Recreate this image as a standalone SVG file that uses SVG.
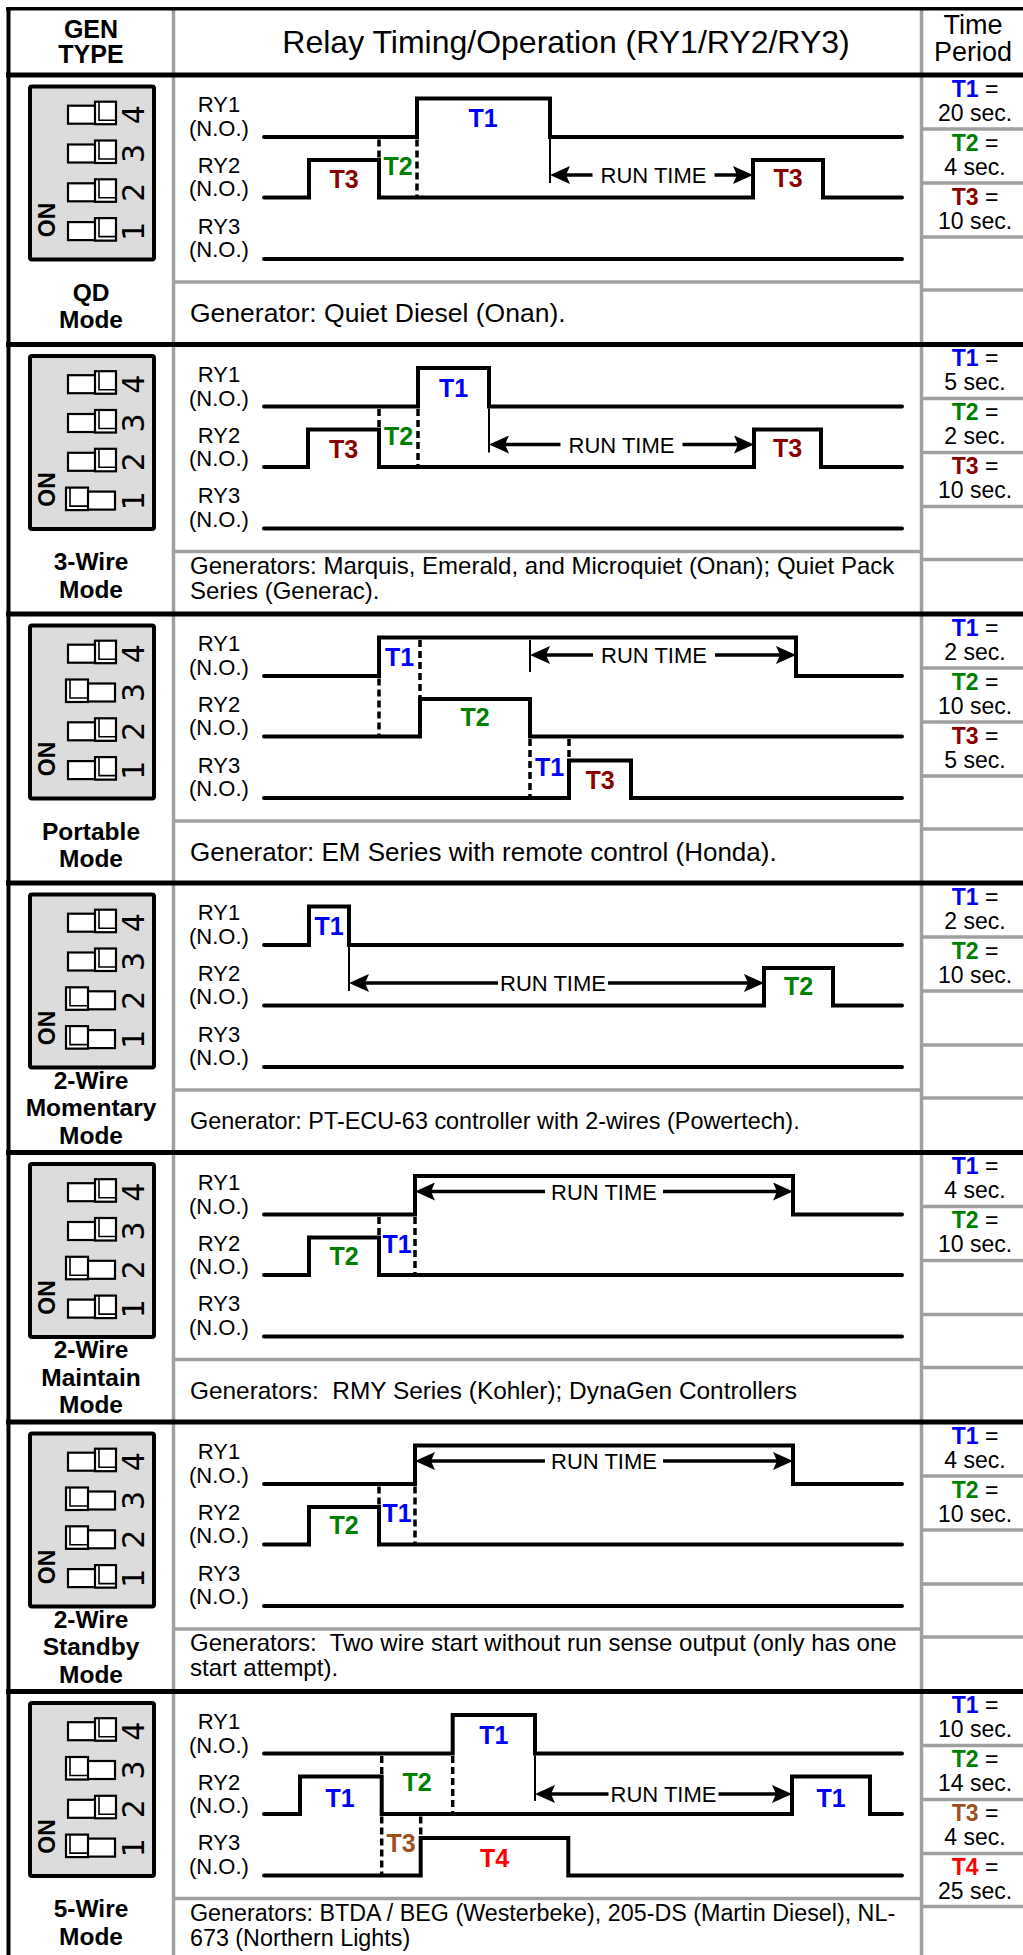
<svg xmlns="http://www.w3.org/2000/svg" xmlns:xlink="http://www.w3.org/1999/xlink" width="1023" height="1955" viewBox="0 0 1023 1955">
<style>
text{font-family:"Liberation Sans",Arial,Helvetica,sans-serif;fill:#000}
.w{fill:none;stroke:#000;stroke-width:4;stroke-linecap:round;stroke-linejoin:miter}
.d{fill:none;stroke:#000;stroke-width:3.5;stroke-dasharray:7 4}
.k{fill:none;stroke:#000;stroke-width:2}
.a{fill:none;stroke:#000;stroke-width:3.5;marker-end:url(#ah)}
.ry{font-size:22px;text-anchor:middle}
.rt{font-size:22px;text-anchor:middle}
.t{font-size:25px;font-weight:bold;text-anchor:middle}
.b{fill:#0000ff}.g{fill:#008000}.r{fill:#8b0000}.br{fill:#a0501e}.rd{fill:#ff0000}
.gen{font-size:24px;white-space:pre}
.tp{font-size:23px;text-anchor:middle}
.tb{font-weight:bold}
.md{font-size:24.5px;font-weight:bold;text-anchor:middle}
.gl{stroke:#a0a0a0;stroke-width:3.5;fill:none}
.bl{stroke:#000;stroke-width:5;fill:none}
.box{fill:#dcdcdc;stroke:#000;stroke-width:4}
.dg{font-family:"DejaVu Sans",sans-serif;font-size:30px;text-anchor:middle}
.on{font-size:23px;font-weight:bold;text-anchor:middle}
.sb{fill:#fff;stroke:#000;stroke-width:2.2}
.sk{fill:none;stroke:#000;stroke-width:1.6}
</style>
<defs>
<marker id="ah" markerUnits="userSpaceOnUse" markerWidth="20" markerHeight="18" viewBox="0 0 20 18" refX="12" refY="9" orient="auto"><path d="M0,0 L20,9 L0,18 L4,9 Z" fill="#000"/></marker>
<g id="swOff"><rect class="sb" x="0" y="0" width="47" height="18"/><rect class="sb" x="27" y="-4" width="21" height="22.5"/><path class="sk" d="M31,-4 V14.5 H48"/></g>
<g id="swOn"><rect class="sb" x="0" y="0" width="47" height="18"/><rect class="sb" x="-2" y="-4" width="22" height="22.5"/><path class="sk" d="M2,-4 V14.5 H20"/></g>
<g id="ryl">
<text class="ry" x="219" y="37">RY1</text><text class="ry" x="219" y="61">(N.O.)</text>
<text class="ry" x="219" y="98">RY2</text><text class="ry" x="219" y="121">(N.O.)</text>
<text class="ry" x="219" y="158.5">RY3</text><text class="ry" x="219" y="182">(N.O.)</text>
</g>
<g id="cellsep">
<path class="gl" d="M921.5,54 H1023 M921.5,108 H1023 M921.5,162 H1023 M921.5,215 H1023 M173.5,207 H921.5"/>
</g>
<g id="dipbox">
<rect class="box" x="30" y="11.5" width="124" height="173" rx="2"/>
<text class="on" transform="translate(46.7,145) rotate(-90)" y="8.3">ON</text>
<text class="dg" transform="translate(132.5,39.7) rotate(-90)" y="11">4</text>
<text class="dg" transform="translate(132.5,78.5) rotate(-90)" y="11">3</text>
<text class="dg" transform="translate(132.5,117.3) rotate(-90)" y="11">2</text>
<text class="dg" transform="translate(132.5,156.1) rotate(-90)" y="11">1</text>
</g>
</defs>

<g id="grid-gray">
<path class="gl" d="M173.5,9 V1955 M921.5,9 V1955"/>
</g>

<g id="header">
<text style="font-size:25px;font-weight:bold;text-anchor:middle"><tspan x="91" y="38">GEN</tspan><tspan x="91" y="63">TYPE</tspan></text>
<text x="566" y="53" style="font-size:32px;text-anchor:middle">Relay Timing/Operation (RY1/RY2/RY3)</text>
<text style="font-size:27px;text-anchor:middle"><tspan x="973" y="34">Time</tspan><tspan x="973" y="61">Period</tspan></text>
</g>

<!-- Row 1: QD -->
<g id="row-qd" transform="translate(0,75)">
<use href="#cellsep"/>
<use href="#dipbox"/>
<use href="#swOff" x="68" y="30.7"/><use href="#swOff" x="68" y="69.5"/><use href="#swOff" x="68" y="108.3"/><use href="#swOff" x="68" y="147.1"/>
<text class="md"><tspan x="91" y="225.5">QD</tspan><tspan x="91" y="253">Mode</tspan></text>
<use href="#ryl"/>
<path class="w" d="M264,62 H417 V23.5 H550 V62 H902"/>
<path class="w" d="M264,122.5 H309 V85 H379 V122.5 H753 V85 H823 V122.5 H902"/>
<path class="w" d="M264,184 H902"/>
<path class="d" d="M379,64.5 V85 M417,64.5 V122.5"/>
<path class="k" d="M550,64 V108"/>
<path class="a" d="M592.5,100 H558"/><path class="a" d="M714.5,100 H745"/>
<text class="rt" x="653.5" y="108">RUN TIME</text>
<text class="t b" x="483" y="52">T1</text><text class="t r" x="344" y="113">T3</text><text class="t g" x="398" y="100">T2</text><text class="t r" x="788" y="112">T3</text>
<text class="gen" x="190" y="247" style="font-size:26.5px">Generator: Quiet Diesel (Onan).</text>
<text class="tp" x="975" y="21.7"><tspan class="tb b">T1</tspan> =</text><text class="tp" x="975" y="45.5">20 sec.</text>
<text class="tp" x="975" y="75.7"><tspan class="tb g">T2</tspan> =</text><text class="tp" x="975" y="99.5">4 sec.</text>
<text class="tp" x="975" y="129.7"><tspan class="tb r">T3</tspan> =</text><text class="tp" x="975" y="153.5">10 sec.</text>
</g>

<!-- Row 2: 3-Wire -->
<g id="row-3wire" transform="translate(0,344.5)">
<use href="#cellsep"/>
<use href="#dipbox"/>
<use href="#swOff" x="68" y="30.7"/><use href="#swOff" x="68" y="69.5"/><use href="#swOff" x="68" y="108.3"/><use href="#swOn" x="68" y="147.1"/>
<text class="md"><tspan x="91" y="225.5">3-Wire</tspan><tspan x="91" y="253">Mode</tspan></text>
<use href="#ryl"/>
<path class="w" d="M264,62 H418 V23.5 H489 V62 H902"/>
<path class="w" d="M264,122.5 H308 V85 H379 V122.5 H754 V85 H821 V122.5 H902"/>
<path class="w" d="M264,184 H902"/>
<path class="d" d="M379,64.5 V85 M418,64.5 V122.5"/>
<path class="k" d="M489,64 V108"/>
<path class="a" d="M560.5,100 H497"/><path class="a" d="M682.5,100 H746"/>
<text class="rt" x="621.5" y="108">RUN TIME</text>
<text class="t b" x="453.5" y="52">T1</text><text class="t r" x="343.5" y="113">T3</text><text class="t g" x="398.5" y="100">T2</text><text class="t r" x="787.5" y="112">T3</text>
<text class="gen"><tspan x="190" y="229">Generators: Marquis, Emerald, and Microquiet (Onan); Quiet Pack</tspan><tspan x="190" y="254">Series (Generac).</tspan></text>
<text class="tp" x="975" y="21.7"><tspan class="tb b">T1</tspan> =</text><text class="tp" x="975" y="45.5">5 sec.</text>
<text class="tp" x="975" y="75.7"><tspan class="tb g">T2</tspan> =</text><text class="tp" x="975" y="99.5">2 sec.</text>
<text class="tp" x="975" y="129.7"><tspan class="tb r">T3</tspan> =</text><text class="tp" x="975" y="153.5">10 sec.</text>
</g>

<!-- Row 3: Portable -->
<g id="row-portable" transform="translate(0,614)">
<use href="#cellsep"/>
<use href="#dipbox"/>
<use href="#swOff" x="68" y="30.7"/><use href="#swOn" x="68" y="69.5"/><use href="#swOff" x="68" y="108.3"/><use href="#swOff" x="68" y="147.1"/>
<text class="md"><tspan x="91" y="225.5">Portable</tspan><tspan x="91" y="253">Mode</tspan></text>
<use href="#ryl"/>
<path class="w" d="M264,62 H379 V23.5 H796 V62 H902"/>
<path class="w" d="M264,122.5 H420 V85 H530 V122.5 H902"/>
<path class="w" d="M264,184 H569 V146.5 H631 V184 H902"/>
<path class="d" d="M379,64.5 V122.5 M420,26 V85 M530,125 V184 M569,125 V146.5"/>
<path class="k" d="M530,26 V58"/>
<path class="a" d="M593,41 H538"/><path class="a" d="M715,41 H788"/>
<text class="rt" x="654" y="49">RUN TIME</text>
<text class="t b" x="399.5" y="52">T1</text><text class="t g" x="475" y="112">T2</text><text class="t b" x="549.5" y="162">T1</text><text class="t r" x="600" y="175">T3</text>
<text class="gen" x="190" y="247" style="font-size:26px">Generator: EM Series with remote control (Honda).</text>
<text class="tp" x="975" y="21.7"><tspan class="tb b">T1</tspan> =</text><text class="tp" x="975" y="45.5">2 sec.</text>
<text class="tp" x="975" y="75.7"><tspan class="tb g">T2</tspan> =</text><text class="tp" x="975" y="99.5">10 sec.</text>
<text class="tp" x="975" y="129.7"><tspan class="tb r">T3</tspan> =</text><text class="tp" x="975" y="153.5">5 sec.</text>
</g>

<!-- Row 4: 2-Wire Momentary -->
<g id="row-2wire-momentary" transform="translate(0,883)">
<use href="#cellsep"/>
<use href="#dipbox"/>
<use href="#swOff" x="68" y="30.7"/><use href="#swOff" x="68" y="69.5"/><use href="#swOn" x="68" y="108.3"/><use href="#swOn" x="68" y="147.1"/>
<text class="md"><tspan x="91" y="205.5">2-Wire</tspan><tspan x="91" y="233">Momentary</tspan><tspan x="91" y="260.5">Mode</tspan></text>
<use href="#ryl"/>
<path class="w" d="M264,62 H309 V23.5 H349 V62 H902"/>
<path class="w" d="M264,122.5 H764 V85 H833 V122.5 H902"/>
<path class="w" d="M264,184 H902"/>
<path class="k" d="M349,64 V108"/>
<path class="a" d="M498,100 H357"/><path class="a" d="M608,100 H756"/>
<text class="rt" x="553" y="108">RUN TIME</text>
<text class="t b" x="329" y="52">T1</text><text class="t g" x="798.5" y="112">T2</text>
<text class="gen" x="190" y="246" style="font-size:23.4px">Generator: PT-ECU-63 controller with 2-wires (Powertech).</text>
<text class="tp" x="975" y="21.7"><tspan class="tb b">T1</tspan> =</text><text class="tp" x="975" y="45.5">2 sec.</text>
<text class="tp" x="975" y="75.7"><tspan class="tb g">T2</tspan> =</text><text class="tp" x="975" y="99.5">10 sec.</text>
</g>

<!-- Row 5: 2-Wire Maintain -->
<g id="row-2wire-maintain" transform="translate(0,1152.5)">
<use href="#cellsep"/>
<use href="#dipbox"/>
<use href="#swOff" x="68" y="30.7"/><use href="#swOff" x="68" y="69.5"/><use href="#swOn" x="68" y="108.3"/><use href="#swOff" x="68" y="147.1"/>
<text class="md"><tspan x="91" y="205.5">2-Wire</tspan><tspan x="91" y="233">Maintain</tspan><tspan x="91" y="260.5">Mode</tspan></text>
<use href="#ryl"/>
<path class="w" d="M264,62 H415 V23.5 H793 V62 H902"/>
<path class="w" d="M264,122.5 H309 V85 H379 V122.5 H902"/>
<path class="w" d="M264,184 H902"/>
<path class="d" d="M379,64.5 V85 M415,64.5 V122.5"/>
<path class="a" d="M545,39 H423"/><path class="a" d="M663,39 H785"/>
<text class="rt" x="604" y="47">RUN TIME</text>
<text class="t g" x="344" y="112">T2</text><text class="t b" x="397" y="100">T1</text>
<text class="gen" x="190" y="246" style="font-size:24.4px">Generators:  RMY Series (Kohler); DynaGen Controllers</text>
<text class="tp" x="975" y="21.7"><tspan class="tb b">T1</tspan> =</text><text class="tp" x="975" y="45.5">4 sec.</text>
<text class="tp" x="975" y="75.7"><tspan class="tb g">T2</tspan> =</text><text class="tp" x="975" y="99.5">10 sec.</text>
</g>

<!-- Row 6: 2-Wire Standby -->
<g id="row-2wire-standby" transform="translate(0,1422)">
<use href="#cellsep"/>
<use href="#dipbox"/>
<use href="#swOff" x="68" y="30.7"/><use href="#swOn" x="68" y="69.5"/><use href="#swOn" x="68" y="108.3"/><use href="#swOff" x="68" y="147.1"/>
<text class="md"><tspan x="91" y="205.5">2-Wire</tspan><tspan x="91" y="233">Standby</tspan><tspan x="91" y="260.5">Mode</tspan></text>
<use href="#ryl"/>
<path class="w" d="M264,62 H415 V23.5 H793 V62 H902"/>
<path class="w" d="M264,122.5 H309 V85 H379 V122.5 H902"/>
<path class="w" d="M264,184 H902"/>
<path class="d" d="M379,64.5 V85 M415,64.5 V122.5"/>
<path class="a" d="M545,39 H423"/><path class="a" d="M663,39 H785"/>
<text class="rt" x="604" y="47">RUN TIME</text>
<text class="t g" x="344" y="112">T2</text><text class="t b" x="397" y="100">T1</text>
<text class="gen"><tspan x="190" y="229">Generators:  Two wire start without run sense output (only has one</tspan><tspan x="190" y="254">start attempt).</tspan></text>
<text class="tp" x="975" y="21.7"><tspan class="tb b">T1</tspan> =</text><text class="tp" x="975" y="45.5">4 sec.</text>
<text class="tp" x="975" y="75.7"><tspan class="tb g">T2</tspan> =</text><text class="tp" x="975" y="99.5">10 sec.</text>
</g>

<!-- Row 7: 5-Wire -->
<g id="row-5wire" transform="translate(0,1691.5)">
<use href="#cellsep"/>
<use href="#dipbox"/>
<use href="#swOff" x="68" y="30.7"/><use href="#swOn" x="68" y="69.5"/><use href="#swOff" x="68" y="108.3"/><use href="#swOn" x="68" y="147.1"/>
<text class="md"><tspan x="91" y="225.5">5-Wire</tspan><tspan x="91" y="253">Mode</tspan></text>
<use href="#ryl"/>
<path class="w" d="M264,62 H452.7 V23.5 H535 V62 H902"/>
<path class="w" d="M264,122.5 H300 V85 H381.7 V122.5 H792 V85 H870 V122.5 H902"/>
<path class="w" d="M264,184 H420.7 V146.5 H568.3 V184 H902"/>
<path class="d" d="M381.7,64.5 V85 M381.7,125 V184 M452.7,64.5 V122.5 M420.7,125 V146.5"/>
<path class="k" d="M535,64 V109.5"/>
<path class="a" d="M608.5,102.5 H543"/><path class="a" d="M718.5,102.5 H784"/>
<text class="rt" x="663.5" y="110.5">RUN TIME</text>
<text class="t b" x="493.8" y="52">T1</text><text class="t b" x="340" y="115">T1</text><text class="t g" x="417" y="99">T2</text><text class="t br" x="401" y="160">T3</text><text class="t rd" x="494.5" y="175">T4</text><text class="t b" x="831" y="115">T1</text>
<text class="gen" style="font-size:23.3px"><tspan x="190" y="229">Generators: BTDA / BEG (Westerbeke), 205-DS (Martin Diesel), NL-</tspan><tspan x="190" y="254">673 (Northern Lights)</tspan></text>
<text class="tp" x="975" y="21.7"><tspan class="tb b">T1</tspan> =</text><text class="tp" x="975" y="45.5">10 sec.</text>
<text class="tp" x="975" y="75.7"><tspan class="tb g">T2</tspan> =</text><text class="tp" x="975" y="99.5">14 sec.</text>
<text class="tp" x="975" y="129.7"><tspan class="tb br">T3</tspan> =</text><text class="tp" x="975" y="153.5">4 sec.</text>
<text class="tp" x="975" y="183.7"><tspan class="tb rd">T4</tspan> =</text><text class="tp" x="975" y="207.5">25 sec.</text>
</g>

<g id="grid-black">
<path d="M6,8.7 H1023" stroke="#000" stroke-width="3.5" fill="none"/>
<path d="M8.5,7 V1955" stroke="#000" stroke-width="4" fill="none"/>
<path class="bl" d="M6,75 H1023 M6,344.5 H1023 M6,614 H1023 M6,883 H1023 M6,1152.5 H1023 M6,1422 H1023 M6,1691.5 H1023"/>
</g>
</svg>
